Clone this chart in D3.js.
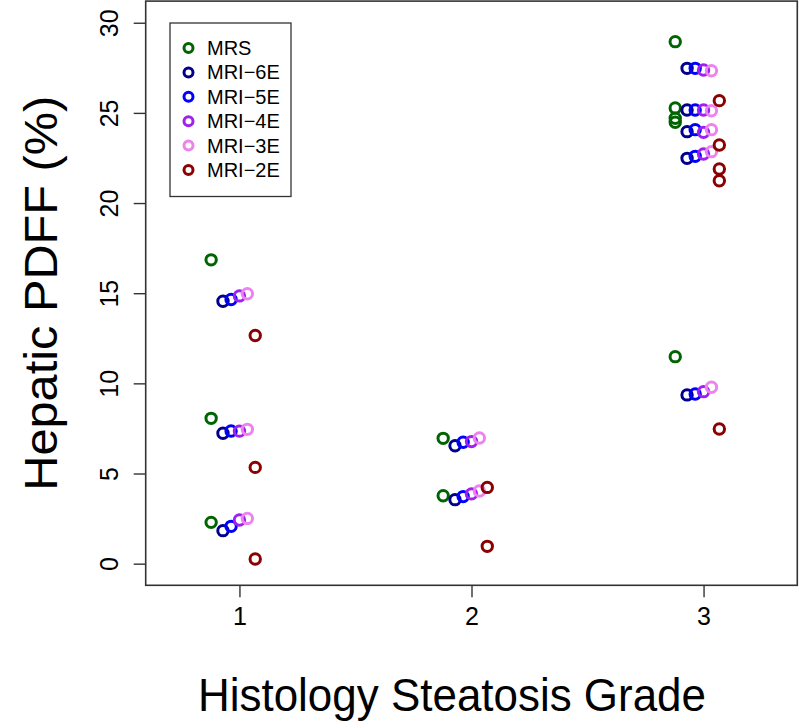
<!DOCTYPE html>
<html>
<head>
<meta charset="utf-8">
<script src="https://cdn.jsdelivr.net/npm/d3@7"></script>
<style>
  html, body { margin: 0; padding: 0; background: #fff; }
  svg text { font-family: "Liberation Sans", Arial, Helvetica, sans-serif; }
</style>
</head>
<body>
<svg id="chart" width="800" height="724"></svg>
<script>
// ---- data ----
const seriesNames = ["MRS", "MRI\u22126E", "MRI\u22125E", "MRI\u22124E", "MRI\u22123E", "MRI\u22122E"];
const seriesColors = ["#006400", "#00008B", "#0000FF", "#A020F0", "#EE82EE", "#8B0000"];
const xTicks = [1, 2, 3];
const yTicks = [0, 5, 10, 15, 20, 25, 30];
// histology grade of each patient
const patientGrade = [1, 1, 1, 2, 2, 3, 3, 3, 3, 3];
const mrs   = [16.85, 8.06, 2.29, 6.95, 3.77, 28.95, 25.27, 24.70, 24.48, 11.48];
const mri6e = [14.55, 7.23, 1.83, 6.54, 3.55, 27.47, 25.16, 23.96, 22.48, 9.36];
const mri5e = [14.65, 7.36, 2.07, 6.73, 3.72, 27.47, 25.16, 24.07, 22.59, 9.41];
const mri4e = [14.85, 7.35, 2.42, 6.77, 3.87, 27.38, 25.16, 23.92, 22.72, 9.54];
const mri3e = [14.97, 7.45, 2.51, 6.97, 4.03, 27.34, 25.12, 24.07, 22.85, 9.78];
const mri2e = [12.65, 5.34, 0.26, 4.23, 0.96, 25.68, 23.22, 21.89, 21.24, 7.47];
const seriesValues = [mrs, mri6e, mri5e, mri4e, mri3e, mri2e];
// horizontal jitter of each series around its grade (in grade units)
const seriesShift = [-0.122, -0.071, -0.036, 0, 0.034, 0.068];

// ---- layout ----
const plot = { left: 145.7, right: 797.3, top: 1.1, bottom: 585.3 };
const svg = d3.select("#chart");

const x = d3.scaleLinear().domain([0.596, 3.404]).range([plot.left, plot.right]);
const y = d3.scaleLinear().domain([-1.2, 31.2]).range([plot.bottom, plot.top]);

// frame
svg.append("rect")
  .attr("x", plot.left).attr("y", plot.top)
  .attr("width", plot.right - plot.left).attr("height", plot.bottom - plot.top)
  .attr("fill", "none").attr("stroke", "#333").attr("stroke-width", 1.6);

// x axis
const xAxis = svg.append("g").attr("transform", `translate(0,${plot.bottom})`)
  .call(d3.axisBottom(x).tickValues(xTicks).tickSize(12).tickPadding(0).tickFormat(d3.format("d")));
xAxis.select(".domain").remove();
xAxis.selectAll(".tick line").attr("stroke", "#333").attr("stroke-width", 1.4);
xAxis.selectAll(".tick text").attr("font-size", 25).attr("fill", "#000")
  .attr("dy", null).attr("y", 40);

// y axis
const yAxis = svg.append("g").attr("transform", `translate(${plot.left},0)`)
  .call(d3.axisLeft(y).tickValues(yTicks).tickSize(12).tickFormat(d3.format("d")));
yAxis.select(".domain").remove();
yAxis.selectAll(".tick line").attr("stroke", "#333").attr("stroke-width", 1.4);
yAxis.selectAll(".tick text")
  .attr("font-size", 25).attr("fill", "#000")
  .attr("x", null).attr("dy", null)
  .attr("text-anchor", "middle")
  .attr("transform", "translate(-28,0) rotate(-90)");

// points
seriesValues.forEach((vals, si) => {
  svg.append("g").selectAll("circle")
    .data(vals.map((v, i) => ({ g: patientGrade[i], v })))
    .join("circle")
    .attr("cx", d => x(d.g + seriesShift[si]))
    .attr("cy", d => y(d.v))
    .attr("r", 5.2)
    .attr("fill", "none")
    .attr("stroke", seriesColors[si])
    .attr("stroke-width", 3);
});

// axis titles
svg.append("text")
  .attr("x", 452).attr("y", 711)
  .attr("text-anchor", "middle").attr("font-size", 46).attr("fill", "#000")
  .attr("textLength", 508).attr("lengthAdjust", "spacingAndGlyphs")
  .text("Histology Steatosis Grade");
svg.append("text")
  .attr("transform", `translate(57,${(plot.top + plot.bottom) / 2}) rotate(-90)`)
  .attr("text-anchor", "middle").attr("font-size", 46).attr("fill", "#000")
  .attr("textLength", 395).attr("lengthAdjust", "spacingAndGlyphs")
  .text("Hepatic PDFF (%)");

// legend
const lg = svg.append("g");
lg.append("rect").attr("x", 170).attr("y", 23).attr("width", 121).attr("height", 173.5)
  .attr("fill", "#fff").attr("stroke", "#333").attr("stroke-width", 1.3);
const rowY = d3.scaleLinear().domain([0, seriesNames.length - 1]).range([48, 170]);
seriesNames.forEach((name, i) => {
  lg.append("circle").attr("cx", 188.5).attr("cy", rowY(i)).attr("r", 4.5)
    .attr("fill", "none").attr("stroke", seriesColors[i]).attr("stroke-width", 3);
  lg.append("text").attr("x", 207).attr("y", rowY(i) + 7)
    .attr("font-size", 20).attr("fill", "#000").text(name);
});
</script>
</body>
</html>
